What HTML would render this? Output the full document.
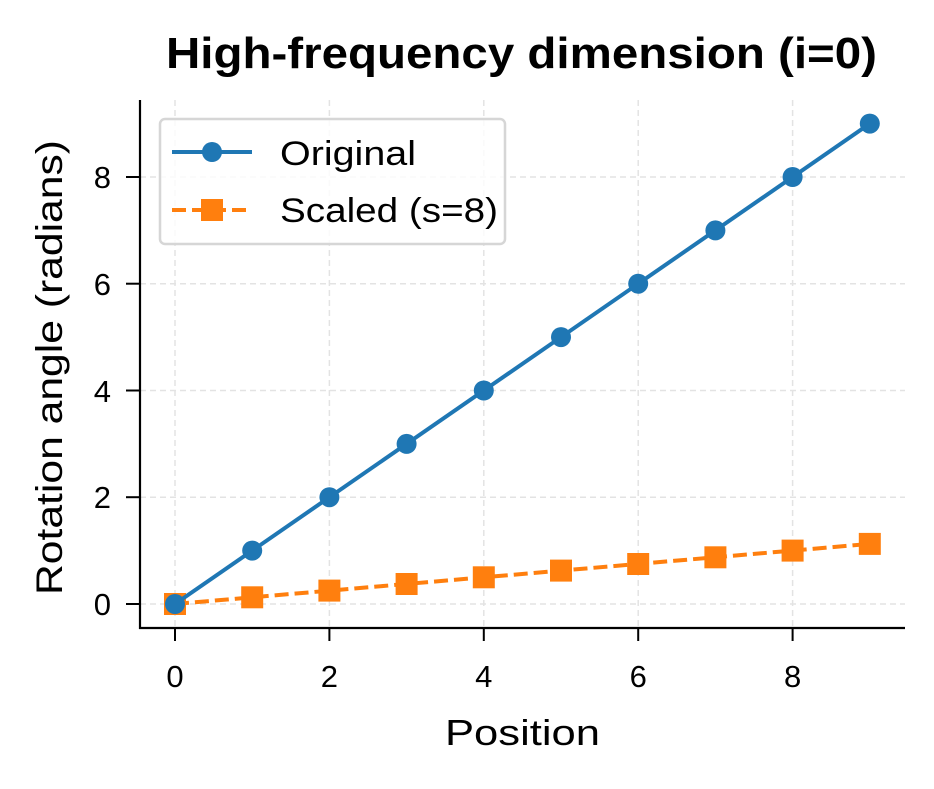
<!DOCTYPE html>
<html><head><meta charset="utf-8"><style>body{margin:0;background:#fff}</style></head><body>
<svg width="934" height="784" xmlns="http://www.w3.org/2000/svg" font-family="Liberation Sans, sans-serif">
<rect width="934" height="784" fill="#fff"/>
<g stroke="#e3e3e3" stroke-width="1.5" stroke-dasharray="6,4">
<line x1="175" y1="100" x2="175" y2="628"/><line x1="329.4" y1="100" x2="329.4" y2="628"/><line x1="483.8" y1="100" x2="483.8" y2="628"/><line x1="638.2" y1="100" x2="638.2" y2="628"/><line x1="792.6" y1="100" x2="792.6" y2="628"/>
<line x1="140" y1="604" x2="905" y2="604"/><line x1="140" y1="497.2" x2="905" y2="497.2"/><line x1="140" y1="390.5" x2="905" y2="390.5"/><line x1="140" y1="283.7" x2="905" y2="283.7"/><line x1="140" y1="177" x2="905" y2="177"/>
</g>
<g stroke="#000" stroke-width="2.2"><line x1="140" y1="100" x2="140" y2="629"/><line x1="139" y1="628" x2="905" y2="628"/></g>
<g stroke="#000" stroke-width="2">
<line x1="175" y1="628" x2="175" y2="641"/><line x1="329.4" y1="628" x2="329.4" y2="641"/><line x1="483.8" y1="628" x2="483.8" y2="641"/><line x1="638.2" y1="628" x2="638.2" y2="641"/><line x1="792.6" y1="628" x2="792.6" y2="641"/>
<line x1="126" y1="604" x2="140" y2="604"/><line x1="126" y1="497.2" x2="140" y2="497.2"/><line x1="126" y1="390.5" x2="140" y2="390.5"/><line x1="126" y1="283.7" x2="140" y2="283.7"/><line x1="126" y1="177" x2="140" y2="177"/>
</g>
<g font-size="31" fill="#000" text-anchor="middle">
<text x="175" y="687">0</text><text x="329.4" y="687">2</text><text x="483.8" y="687">4</text><text x="638.2" y="687">6</text><text x="792.6" y="687">8</text>
</g>
<g font-size="31" fill="#000" text-anchor="end">
<text x="111" y="615">0</text><text x="111" y="508">2</text><text x="111" y="402">4</text><text x="111" y="295">6</text><text x="111" y="188">8</text>
</g>
<text x="445" y="745" font-size="36" textLength="155" lengthAdjust="spacingAndGlyphs">Position</text>
<text transform="translate(62,595) rotate(-90)" font-size="37" textLength="455" lengthAdjust="spacingAndGlyphs">Rotation angle (radians)</text>
<text x="166" y="68" font-size="44" font-weight="bold" textLength="711" lengthAdjust="spacingAndGlyphs">High-frequency dimension (i=0)</text>
<polyline fill="none" stroke="#ff7f0e" stroke-width="4" stroke-dasharray="14,6" points="175,604 869.8,543.9"/>
<g fill="#ff7f0e">
<rect x="164" y="593" width="22" height="22"/><rect x="241.2" y="586.3" width="22" height="22"/><rect x="318.4" y="579.6" width="22" height="22"/><rect x="395.6" y="573" width="22" height="22"/><rect x="472.8" y="566.3" width="22" height="22"/><rect x="550" y="559.6" width="22" height="22"/><rect x="627.2" y="553" width="22" height="22"/><rect x="704.4" y="546.3" width="22" height="22"/><rect x="781.6" y="539.6" width="22" height="22"/><rect x="858.8" y="532.9" width="22" height="22"/>
</g>
<polyline fill="none" stroke="#1f77b4" stroke-width="4" points="175,604 869.8,123.6"/>
<g fill="#1f77b4">
<circle cx="175" cy="604" r="10"/><circle cx="252.2" cy="550.6" r="10"/><circle cx="329.4" cy="497.2" r="10"/><circle cx="406.6" cy="443.9" r="10"/><circle cx="483.8" cy="390.5" r="10"/><circle cx="561" cy="337.1" r="10"/><circle cx="638.2" cy="283.7" r="10"/><circle cx="715.4" cy="230.4" r="10"/><circle cx="792.6" cy="177" r="10"/><circle cx="869.8" cy="123.6" r="10"/>
</g>
<rect x="160" y="119" width="345" height="125" rx="5" fill="#fff" fill-opacity="0.8" stroke="#d6d6d6" stroke-width="2.5"/>
<line x1="172" y1="152" x2="252" y2="152" stroke="#1f77b4" stroke-width="4"/>
<circle cx="212" cy="152" r="10" fill="#1f77b4"/>
<line x1="172" y1="210" x2="252" y2="210" stroke="#ff7f0e" stroke-width="4" stroke-dasharray="14,6"/>
<rect x="201" y="199" width="22" height="22" fill="#ff7f0e"/>
<text x="280" y="165" font-size="34" textLength="136" lengthAdjust="spacingAndGlyphs">Original</text>
<text x="280" y="222" font-size="34" textLength="218" lengthAdjust="spacingAndGlyphs">Scaled (s=8)</text>
</svg>
</body></html>
